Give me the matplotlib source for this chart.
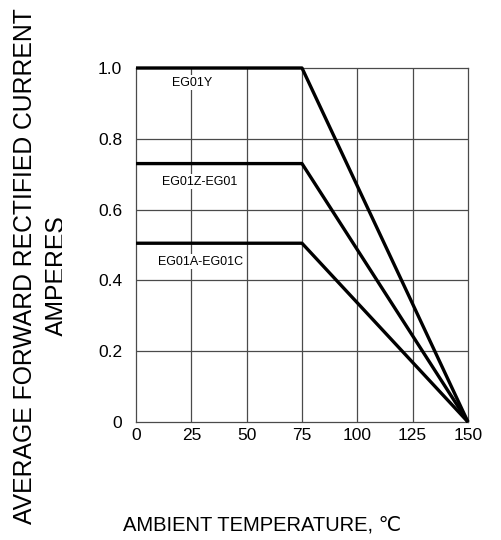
import matplotlib

matplotlib.use("Agg")
import matplotlib.pyplot as plt
from matplotlib.transforms import Bbox, TransformedBbox

# Derating curves: flat up to 75 C, then linear to zero at 150 C
temps = [0, 75, 150]
series_names = ["EG01Y", "EG01Z-EG01", "EG01A-EG01C"]
i_eg01y = [1.0, 1.0, 0.0]
i_eg01z = [0.73, 0.73, 0.0]
i_eg01a = [0.505, 0.505, 0.0]
label_pos = [(25.5, 0.958), (29.0, 0.679), (29.0, 0.453)]

xticks = [0, 25, 50, 75, 100, 125, 150]
yticks = [0, 0.2, 0.4, 0.6, 0.8, 1.0]
ytick_labels = ["0", "0.2", "0.4", "0.6", "0.8", "1.0"]

plt.rcParams["font.family"] = ["Liberation Sans", "DejaVu Sans"]

W, H = 501, 540
fig = plt.figure(figsize=(W / 100, H / 100), dpi=100)
ax = fig.add_axes([136 / W, 1 - 422 / H, (468 - 136) / W, (422 - 68) / H])

grid_c = "#4a4a4a"
for x in xticks[1:-1]:
    ax.axvline(x, color=grid_c, lw=0.9, zorder=1)
for y in yticks[1:-1]:
    ax.axhline(y, color=grid_c, lw=0.9, zorder=1)
for s in ax.spines.values():
    s.set_color(grid_c)
    s.set_linewidth(0.9)

for vals in (i_eg01y, i_eg01z, i_eg01a):
    ax.plot(temps, vals, color="black", lw=2.4, solid_capstyle="butt", zorder=3, clip_on=False)

for name, (x, y) in zip(series_names, label_pos):
    ax.text(x, y, name, ha="center", va="center", fontsize=9, zorder=2,
            bbox=dict(facecolor="white", edgecolor="none", pad=1.0))

ax.set_xlim(0, 150)
ax.set_ylim(0, 1.0)
ax.set_xticks(xticks)
ax.set_yticks(yticks)
ax.set_yticklabels(ytick_labels)
ax.tick_params(length=0, labelsize=12.5)
ax.tick_params(axis="y", pad=10)
ax.tick_params(axis="x", pad=4)

fig.text(25 / W, 1 - 266 / H, "AVERAGE FORWARD RECTIFIED CURRENT", rotation=90,
         ha="center", va="center", fontsize=17.8)
amp = fig.text(57 / W, 1 - 276 / H, "AMPERES", rotation=90,
               ha="center", va="center", fontsize=17.8)
amp.set_clip_box(TransformedBbox(Bbox([[0, 0], [62 / W, 1]]), fig.transFigure))
amp.set_clip_on(True)

fig.text(262 / W, 1 - 525 / H, "AMBIENT TEMPERATURE, \u2103", ha="center", va="center",
         fontsize=14.5)

fig.savefig("out.png", dpi=100)
